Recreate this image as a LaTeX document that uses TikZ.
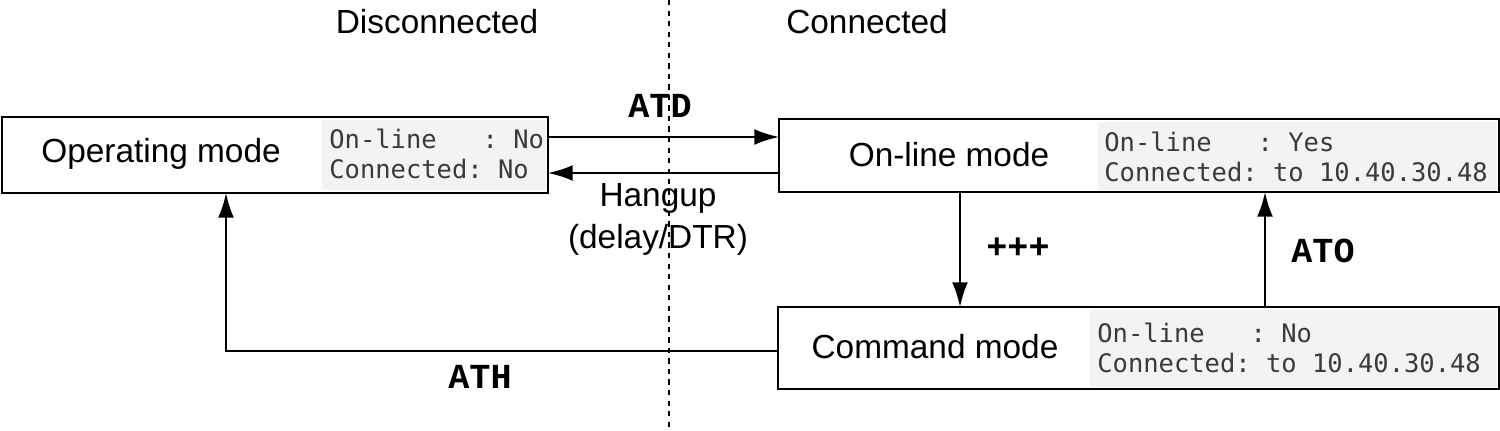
\documentclass[tikz,border=0pt]{standalone}
\usepackage{fontspec}
\setmainfont{Liberation Sans}
\newfontfamily\termfont{DejaVu Sans Mono}
\newfontfamily\codefont{Liberation Mono}
\usetikzlibrary{arrows.meta}
\definecolor{termbg}{HTML}{F3F3F3}
\definecolor{termfg}{HTML}{3A3A3A}
\begin{document}
\begin{tikzpicture}[x=0.02cm,y=-0.02cm,
  box/.style={draw=black,line width=1.2pt,fill=white},
  term/.style={fill=termbg,inner sep=0pt},
  mode/.style={font=\fontsize{19}{22}\selectfont,inner sep=0pt},
  tt/.style={font=\termfont\fontsize{14.5}{17}\selectfont,text=termfg,align=left,anchor=west,inner sep=0pt},
  lab/.style={font=\codefont\bfseries\fontsize{20}{22}\selectfont,inner sep=0pt},
  txt/.style={font=\fontsize{19}{22}\selectfont,inner sep=0pt},
  arr/.style={line width=1.2pt,-{Latex[length=14pt,width=9pt]}}]
\useasboundingbox (0,0) rectangle (1500,431);
\draw[dashed,line width=1pt] (669,0) -- (669,431);
\node[txt] (dis) at (437,22) {Disconnected};
\node[txt] (con) at (867,22) {Connected};
% boxes
\draw[box] (2,117) rectangle (548,193);
\fill[termbg] (322,120) rectangle (546,190);
\node[mode] (op) at (161,154) {Operating mode};
\node[tt] (opt) at (329,154) {On-line~~~:~No\\Connected:~No};
\coordinate (opE1) at (548,137); \coordinate (opE2) at (548,173); \coordinate (opB) at (226,193);
\draw[box] (779,119) rectangle (1499,192);
\fill[termbg] (1098,122) rectangle (1497,190);
\node[mode] (on) at (949,155) {On-line mode};
\node[tt] (ont) at (1104,157) {On-line~~~:~Yes\\Connected:~to~10.40.30.48};
\draw[box] (778,307) rectangle (1499,389);
\fill[termbg] (1090,310) rectangle (1497,387);
\node[mode] (cm) at (935,347) {Command mode};
\node[tt] (cmt) at (1097,348) {On-line~~~:~No\\Connected:~to~10.40.30.48};
\coordinate (onW1) at (779,137); \coordinate (onW2) at (779,173);
\coordinate (onB1) at (960,192); \coordinate (onB2) at (1265,192);
\coordinate (cmT1) at (960,307); \coordinate (cmT2) at (1265,307);
\coordinate (cmW) at (778,351); \coordinate (corner) at (226,351);
\draw[arr] (opE1) -- (onW1);
\draw[arr] (onW2) -- (opE2);
\draw[arr] (onB1) -- (cmT1);
\draw[arr] (cmT2) -- (onB2);
\draw[arr] (cmW) -- (corner) -- (opB);
\node[lab] (atd) at (660,106) {ATD};
\node[txt] (hang) at (658,198) {Hangup};
\node[txt] (dtr) at (658,240) {(delay/DTR)};
\node[lab] (plus) at (1018,248) {+++};
\node[lab] (ato) at (1323,251) {ATO};
\node[lab] (ath) at (480,377) {ATH};
\end{tikzpicture}
\end{document}
